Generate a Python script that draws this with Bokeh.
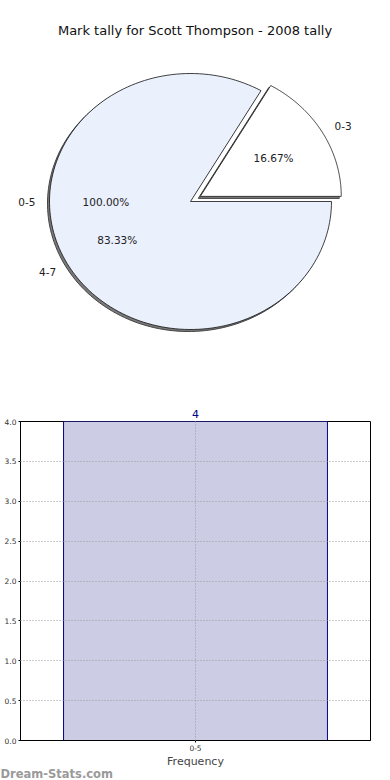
import numpy as np
from bokeh.plotting import figure
from bokeh.models import (ColumnDataSource, Range1d, FactorRange, FixedTicker,
                          NumeralTickFormatter, Title)
from bokeh.layouts import column, row
from bokeh.embed import file_html
from bokeh.resources import INLINE
from bokeh.core.properties import value

# ---------------- data ----------------
TITLE = "Mark tally for Scott Thompson - 2008 tally"
pie_labels = ["0-3", "4-7"]
pie_values = [1, 5]
pie_explode = [0.08, 0.0]
pie_colors = ["#FFFFFF", "#EAF0FC"]

overlay_labels = ["0-5"]
overlay_values = [4]

bar_categories = ["0-5"]
bar_values = [4]
y_ticks = [0.0, 0.5, 1.0, 1.5, 2.0, 2.5, 3.0, 3.5, 4.0]
x_title = "Frequency"
watermark = "Dream-Stats.com"

FONT = "DejaVu Sans"

# ---------------- pie ----------------
W, H = 390, 390
CX, CY = 190, 189      # pie centre (pixel-like data units)
RX, RY = 141, 128      # ellipse radii

pie = figure(width=W, height=H, x_range=Range1d(0, W), y_range=Range1d(0, H),
             output_backend="svg", toolbar_location=None,
             x_axis_location=None, y_axis_location=None,
             min_border=0, min_border_left=0, min_border_right=0,
             min_border_top=0, min_border_bottom=0)
pie.grid.visible = False
pie.outline_line_color = None


def slices(values, explode):
    total = float(sum(values))
    start = 0.0
    out = []
    for v, e in zip(values, explode):
        frac = v / total
        a0, a1 = start, start + frac * 2 * np.pi
        mid = (a0 + a1) / 2
        ox, oy = e * RX * np.cos(mid), e * RY * np.sin(mid)
        t = np.linspace(a0, a1, 160)
        xs = [CX + ox] + list(CX + ox + RX * np.cos(t))
        ys = [CY + oy] + list(CY + oy + RY * np.sin(t))
        out.append(dict(xs=xs, ys=ys, mid=mid, ox=ox, oy=oy, frac=frac))
        start = a1
    return out


sl = slices(pie_values, pie_explode)
shadow = ColumnDataSource(dict(xs=[[x - 2 for x in s["xs"]] for s in sl],
                               ys=[[y - 2 for y in s["ys"]] for s in sl]))
pie.patches("xs", "ys", source=shadow, fill_color="#7a7a7a", line_color="#444444",
            line_width=1)
main = ColumnDataSource(dict(xs=[s["xs"] for s in sl], ys=[s["ys"] for s in sl],
                             color=pie_colors))
pie.patches("xs", "ys", source=main, fill_color="color", line_color="#111111",
            line_width=0.8)


def add_labels(sls, names):
    for s, name in zip(sls, names):
        c, sn = np.cos(s["mid"]), np.sin(s["mid"])
        lx = CX + s["ox"] + 1.1 * RX * c
        ly = CY + s["oy"] + 1.1 * RY * sn
        pie.text(x=[lx], y=[ly], text=[name], text_align="left" if c > 0 else "right",
                 text_baseline="middle", text_font=value(FONT),
                 text_font_size="10.5px", text_color="#222222")
        px = CX + s["ox"] + 0.6 * RX * c
        py = CY + s["oy"] + 0.6 * RY * sn
        pie.text(x=[px], y=[py], text=["%.2f%%" % (s["frac"] * 100)],
                 text_align="center", text_baseline="middle", text_font=value(FONT),
                 text_font_size="10.5px", text_color="#222222")


add_labels(sl, pie_labels)
add_labels(slices(overlay_values, [0.0]), overlay_labels)

pie.text(x=[194.5], y=[H - 30], text=[TITLE], text_align="center",
         text_baseline="middle", text_font=value(FONT), text_font_size="13px",
         text_color="#111111")

# ---------------- bar ----------------
bar = figure(x_range=FactorRange(*bar_categories), y_range=Range1d(0, 4),
             frame_width=350, frame_height=319,
             min_border_left=20, min_border_right=20, min_border_top=31,
             min_border_bottom=40, output_backend="svg", toolbar_location=None)
bsrc = ColumnDataSource(dict(cat=bar_categories, val=bar_values))
bar.vbar(x="cat", top="val", width=0.754, source=bsrc, fill_color="#CCCCE5",
         line_color="#00008B", line_width=1)

# value label above the bar (bar is centred in the frame)
bar.add_layout(Title(text=str(bar_values[0]), align="center", text_color="#00008B",
                     text_font=FONT, text_font_size="11px", text_font_style="normal",
                     standoff=8, offset=0), "above")

bar.outline_line_color = "#000000"
bar.outline_line_width = 1
for g in bar.grid:
    g.grid_line_color = "#9a9a9a"
    g.grid_line_dash = "1 2"
    g.level = "overlay"
bar.ygrid.ticker = FixedTicker(ticks=y_ticks)

ya = bar.yaxis[0]
ya.ticker = FixedTicker(ticks=y_ticks)
ya.formatter = NumeralTickFormatter(format="0.0")
ya.major_label_text_font = FONT
ya.major_label_text_font_size = "7.5px"
ya.major_label_text_color = "#333333"
ya.major_tick_out = 2
ya.major_tick_in = 0
ya.minor_tick_line_color = None
ya.major_label_standoff = 2
ya.axis_line_color = "#000000"

xa = bar.xaxis[0]
xa.major_label_text_font = FONT
xa.major_label_text_font_size = "7.5px"
xa.major_label_text_color = "#333333"
xa.major_tick_out = 2
xa.major_tick_in = 0
xa.major_label_standoff = 2
xa.axis_label = x_title
xa.axis_label_text_font = FONT
xa.axis_label_text_font_style = "normal"
xa.axis_label_text_font_size = "11px"
xa.axis_label_standoff = 1

bar.add_layout(Title(text=watermark, align="left", offset=-20, text_font=FONT,
                     text_font_size="11.5px", text_font_style="bold",
                     text_color="#9a9a9a", standoff=-12), "below")

layout = column(row(pie), row(bar), spacing=0)
open("out.html", "w").write(file_html(layout, INLINE))
